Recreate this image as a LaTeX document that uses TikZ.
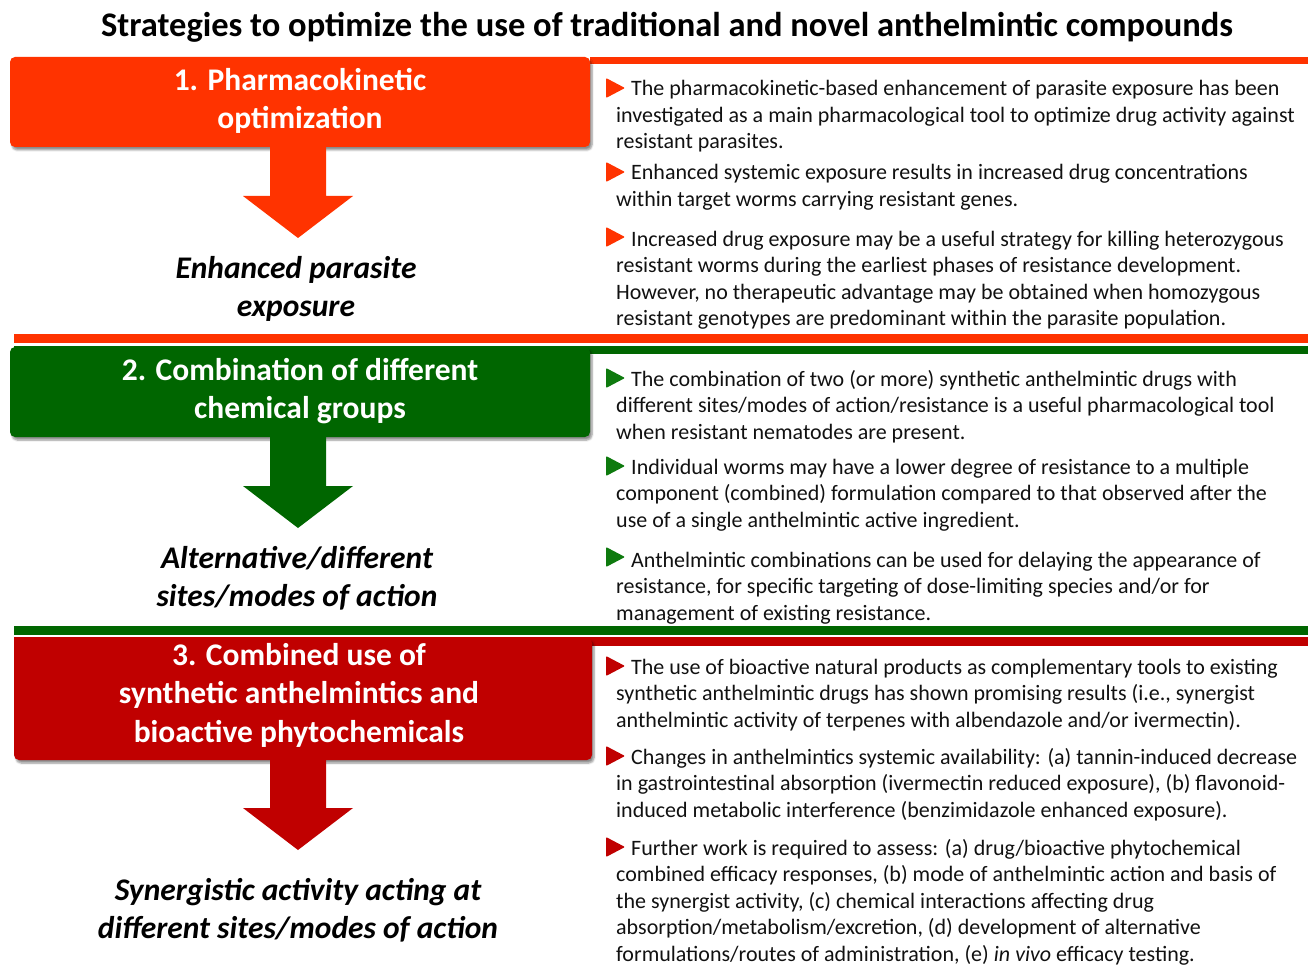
\documentclass[tikz,border=0pt]{standalone}
\usepackage{fontspec}
\setmainfont{Carlito}
\usetikzlibrary{calc,shadows.blur}

\definecolor{pkorange}{HTML}{FF3300}
\definecolor{cbgreen}{HTML}{006600}
\definecolor{cbbullet}{HTML}{0E7A0E}
\definecolor{phred}{HTML}{C00000}
\definecolor{bodytext}{HTML}{111111}

\tikzset{
  headbox/.style={fill=#1, rounded corners=5pt, minimum width=580pt, inner sep=0pt,
    blur shadow={shadow xshift=2pt, shadow yshift=-3pt, shadow blur steps=6,
      shadow opacity=45}},
  headtext/.style={text=white, align=center, inner sep=0pt,
    font=\fontsize{31.5}{38.5}\selectfont\bfseries},
  outcome/.style={align=center, inner sep=0pt, text=black,
    font=\fontsize{31.5}{38}\selectfont\bfseries\itshape},
  % multi-line text: the anchor sits on the baseline of the last line
  body/.style={anchor=base west, align=left, inner sep=0pt, text=bodytext,
    font=\fontsize{22}{26.5}\selectfont},
  bar/.style={fill=#1},
}

% block arrow from the bottom edge of a heading box down to a tip coordinate
\newcommand\blockarrow[3]{%
  \fill[#1] let \p1=(#2.south), \p2=(#3) in
    (\x2-28pt,\y1) -- (\x2+28pt,\y1) -- (\x2+28pt,\y2+42pt) --
    (\x2+55pt,\y2+42pt) -- (\x2,\y2) -- (\x2-55pt,\y2+42pt) --
    (\x2-28pt,\y2+42pt) -- cycle;}

% triangular bullet whose point is at the given x, centred on y
\newcommand\tribullet[3]{%
  \fill[#1, rounded corners=1pt] (#2-19,#3-10) -- (#2,#3) -- (#2-19,#3+10) -- cycle;}

\newcommand\lead{\hspace*{15pt}}

\begin{document}
\begin{tikzpicture}[x=1pt,y=-1pt]
\useasboundingbox (0,0) rectangle (1311,968);

% title
\node[anchor=base, inner sep=0pt, font=\fontsize{34.5}{40}\selectfont\bfseries]
  (title) at (667,37) {Strategies to optimize the use of traditional and novel anthelmintic compounds};

% separator bars
\fill[bar=pkorange] (590,57) rectangle (1308,64);
\fill[bar=pkorange] (14,334) rectangle (1308,343);
\fill[bar=cbgreen]  (14,346) rectangle (1308,354);
\fill[bar=cbgreen]  (14,626) rectangle (1308,635);
\fill[bar=phred]    (14,637) rectangle (1308,646);

% arrow tips
\coordinate (tip1) at (298,238);
\coordinate (tip2) at (298,528);
\coordinate (tip3) at (298,850);

% ---------- 1. pharmacokinetic optimization ----------
\node[headbox=pkorange, minimum height=90pt] (box1) at (300,102) {};
\node[headtext] (h1) at (300,101) {1. Pharmacokinetic\\optimization};
\node[outcome] (out1) at (296,289) {Enhanced parasite\\exposure};
\blockarrow{pkorange}{box1}{tip1}

\tribullet{pkorange}{625}{88}
\node[body] (t11) at (616,149) {\lead The pharmacokinetic-based enhancement of parasite exposure has been\\investigated as a main pharmacological tool to optimize drug activity against\\resistant parasites.};
\tribullet{pkorange}{625}{172}
\node[body] (t12) at (616,206.5) {\lead Enhanced systemic exposure results in increased drug concentrations\\within target worms carrying resistant genes.};
\tribullet{pkorange}{625}{237}
\node[body] (t13) at (616,325.5) {\lead Increased drug exposure may be a useful strategy for killing heterozygous\\resistant worms during the earliest phases of resistance development.\\However, no therapeutic advantage may be obtained when homozygous\\resistant genotypes are predominant within the parasite population.};

% ---------- 2. combination of chemical groups ----------
\node[headbox=cbgreen, minimum height=90pt] (box2) at (300,392) {};
\node[headtext] (h2) at (300,391) {2. Combination of different\\chemical groups};
\node[outcome] (out2) at (297,578) {Alternative/different\\sites/modes of action};
\blockarrow{cbgreen}{box2}{tip2}

\tribullet{cbbullet}{625}{378}
\node[body] (t21) at (616,439) {\lead The combination of two (or more) synthetic anthelmintic drugs with\\different sites/modes of action/resistance is a useful pharmacological tool\\when resistant nematodes are present.};
\tribullet{cbbullet}{625}{466}
\node[body] (t22) at (616,527) {\lead Individual worms may have a lower degree of resistance to a multiple\\component (combined) formulation compared to that observed after the\\use of a single anthelmintic active ingredient.};
\tribullet{cbbullet}{625}{557}
\node[body] (t23) at (616,620) {\lead Anthelmintic combinations can be used for delaying the appearance of\\resistance, for specific targeting of dose-limiting species and/or for\\management of existing resistance.};

% ---------- 3. synthetic drugs and bioactive phytochemicals ----------
\node[headbox=phred, minimum height=122pt, minimum width=578pt] (box3) at (303,699) {};
\node[headtext] (h3) at (299,695) {3. Combined use of\\synthetic anthelmintics and\\bioactive phytochemicals};
\node[outcome] (out3) at (298,910) {Synergistic activity acting at\\different sites/modes of action};
\blockarrow{phred}{box3}{tip3}

\tribullet{phred}{625}{666}
\node[body] (t31) at (616,727) {\lead The use of bioactive natural products as complementary tools to existing\\synthetic anthelmintic drugs has shown promising results (i.e., synergist\\anthelmintic activity of terpenes with albendazole and/or ivermectin).};
\tribullet{phred}{625}{756}
\node[body] (t32) at (616,817) {\lead Changes in anthelmintics systemic availability: (a) tannin-induced decrease\\in gastrointestinal absorption (ivermectin reduced exposure), (b) flavonoid-\\induced metabolic interference (benzimidazole enhanced exposure).};
\tribullet{phred}{625}{847}
\node[body] (t33) at (616,961) {\lead Further work is required to assess: (a) drug/bioactive phytochemical\\combined efficacy responses, (b) mode of anthelmintic action and basis of\\the synergist activity, (c) chemical interactions affecting drug\\absorption/metabolism/excretion, (d) development of alternative\\formulations/routes of administration, (e) \textit{in vivo} efficacy testing.};
\end{tikzpicture}
\end{document}
